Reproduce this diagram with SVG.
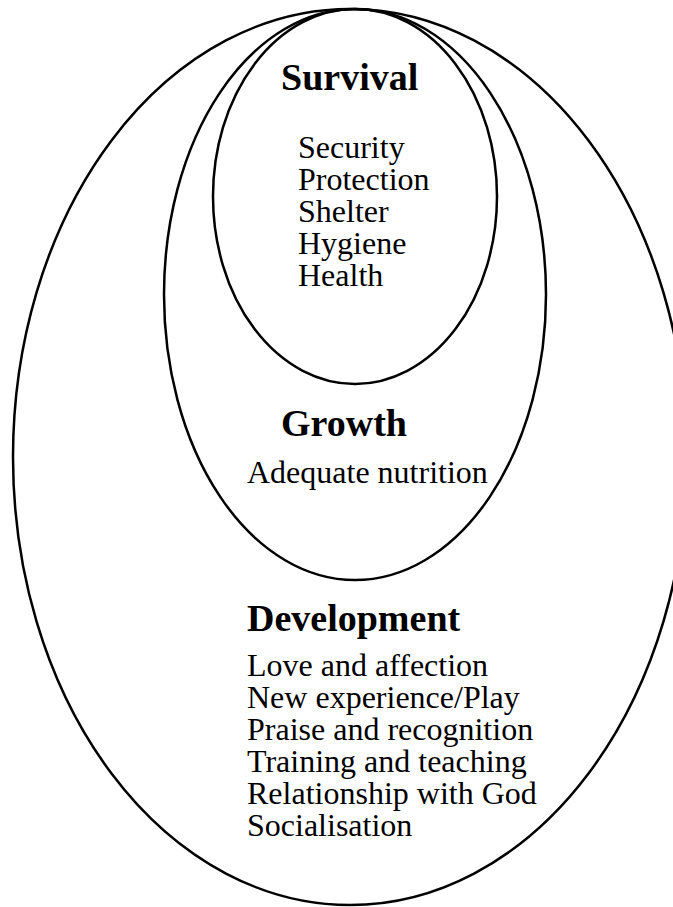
<svg xmlns="http://www.w3.org/2000/svg" width="673" height="907" viewBox="0 0 673 907">
  <style>
    .ring { fill: none; stroke: #000; stroke-width: 2.5; }
    .head { font-family: "Liberation Serif", "Times New Roman", serif; font-size: 38px; font-weight: bold; fill: #000; }
    .item { font-family: "Liberation Serif", "Times New Roman", serif; font-size: 32px; fill: #000; }
  </style>
  <rect width="673" height="907" fill="#fff"/>

  <!-- Outer ring: Development -->
  <g id="development">
    <ellipse class="ring" cx="350" cy="457" rx="337" ry="448"/>
    <text class="head" x="247" y="631">Development</text>
    <text class="item" x="247" y="676">Love and affection</text>
    <text class="item" x="247" y="708">New experience/Play</text>
    <text class="item" x="247" y="740">Praise and recognition</text>
    <text class="item" x="247" y="772">Training and teaching</text>
    <text class="item" x="247" y="804">Relationship with God</text>
    <text class="item" x="247" y="836">Socialisation</text>
  </g>

  <!-- Middle ring: Growth -->
  <g id="growth">
    <ellipse class="ring" cx="355" cy="294.5" rx="191" ry="285.5"/>
    <text class="head" x="281" y="436">Growth</text>
    <text class="item" x="247" y="483">Adequate nutrition</text>
  </g>

  <!-- Inner ring: Survival -->
  <g id="survival">
    <ellipse class="ring" cx="355" cy="196.5" rx="142" ry="187.5"/>
    <text class="head" x="281" y="90">Survival</text>
    <text class="item" x="298" y="158">Security</text>
    <text class="item" x="298" y="190">Protection</text>
    <text class="item" x="298" y="222">Shelter</text>
    <text class="item" x="298" y="254">Hygiene</text>
    <text class="item" x="298" y="286">Health</text>
  </g>

  <g id="connectors"/>
</svg>
